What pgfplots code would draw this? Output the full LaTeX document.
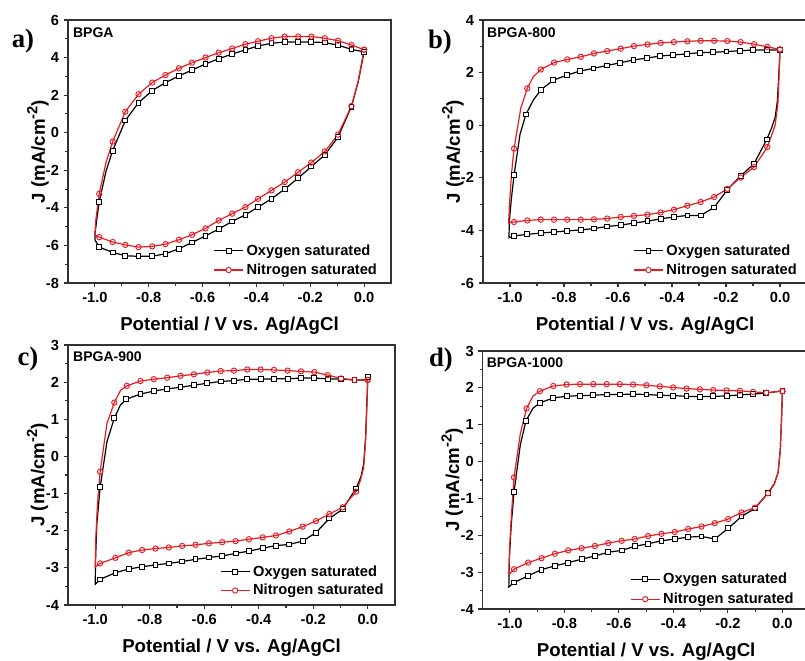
\documentclass[border=0pt]{standalone}
\usepackage{fontspec}
\setmainfont{Liberation Sans}
\newfontfamily\serifbf{Liberation Serif}
\usepackage{pgfplots}
\usepackage{pgfplotstable}
\pgfplotsset{compat=1.18}
\definecolor{cvred}{RGB}{232,28,36}
\definecolor{axgray}{RGB}{50,50,50}

\pgfplotstableread{
x y m
0.000 4.30 1
-0.022 2.70 0
-0.047 1.39 1
-0.097 -0.24 1
-0.146 -1.18 1
-0.196 -1.80 1
-0.245 -2.42 1
-0.295 -3.00 1
-0.344 -3.52 1
-0.394 -3.96 1
-0.441 -4.37 1
-0.490 -4.72 1
-0.540 -5.13 1
-0.589 -5.49 1
-0.639 -5.84 1
-0.688 -6.18 1
-0.738 -6.44 1
-0.787 -6.58 1
-0.838 -6.58 1
-0.887 -6.55 1
-0.934 -6.37 1
-0.984 -6.09 1
-1.000 -5.70 0
-0.999 -5.30 0
-0.992 -4.50 0
-0.984 -3.69 1
-0.959 -2.06 0
-0.934 -0.95 1
-0.887 0.65 1
-0.838 1.60 1
-0.787 2.24 1
-0.738 2.67 1
-0.688 3.02 1
-0.639 3.34 1
-0.589 3.66 1
-0.540 3.94 1
-0.490 4.19 1
-0.441 4.41 1
-0.394 4.62 1
-0.344 4.76 1
-0.295 4.83 1
-0.245 4.83 1
-0.196 4.83 1
-0.146 4.80 1
-0.097 4.66 1
-0.047 4.44 1
0.000 4.30 1
}\aO
\pgfplotstableread{
x y m
0.000 4.42 1
-0.022 2.75 0
-0.047 1.42 1
-0.097 -0.10 1
-0.146 -1.00 1
-0.196 -1.59 1
-0.245 -2.10 1
-0.295 -2.63 1
-0.344 -3.07 1
-0.394 -3.52 1
-0.441 -3.96 1
-0.490 -4.31 1
-0.540 -4.67 1
-0.589 -5.09 1
-0.639 -5.43 1
-0.688 -5.70 1
-0.738 -5.93 1
-0.787 -6.05 1
-0.838 -6.09 1
-0.887 -5.97 1
-0.934 -5.82 1
-0.984 -5.56 1
-1.000 -5.43 0
-0.997 -4.70 0
-0.990 -3.90 0
-0.984 -3.25 1
-0.959 -1.60 0
-0.934 -0.47 1
-0.887 1.12 1
-0.838 2.05 1
-0.787 2.67 1
-0.738 3.07 1
-0.688 3.43 1
-0.639 3.73 1
-0.589 4.00 1
-0.540 4.26 1
-0.490 4.48 1
-0.441 4.71 1
-0.394 4.87 1
-0.344 5.03 1
-0.295 5.12 1
-0.245 5.12 1
-0.196 5.12 1
-0.146 5.03 1
-0.097 4.90 1
-0.047 4.67 1
0.000 4.42 1
}\aN
\pgfplotstableread{
x y m
0.000 2.86 1
-0.004 2.00 0
-0.010 0.90 0
-0.018 0.30 0
-0.031 -0.10 0
-0.049 -0.54 1
-0.096 -1.46 1
-0.146 -1.93 1
-0.195 -2.45 1
-0.244 -3.13 1
-0.294 -3.43 1
-0.343 -3.43 1
-0.393 -3.49 1
-0.442 -3.56 1
-0.491 -3.65 1
-0.541 -3.72 1
-0.590 -3.80 1
-0.640 -3.85 1
-0.689 -3.93 1
-0.738 -3.98 1
-0.788 -4.02 1
-0.837 -4.06 1
-0.886 -4.10 1
-0.936 -4.15 1
-0.985 -4.21 1
-1.004 -4.28 0
-1.002 -3.60 0
-0.995 -2.80 0
-0.985 -1.90 1
-0.963 -0.35 0
-0.941 0.41 1
-0.914 0.95 0
-0.886 1.34 1
-0.840 1.71 1
-0.790 1.90 1
-0.741 2.06 1
-0.691 2.16 1
-0.642 2.27 1
-0.593 2.37 1
-0.543 2.48 1
-0.494 2.55 1
-0.444 2.63 1
-0.395 2.67 1
-0.346 2.71 1
-0.296 2.76 1
-0.247 2.77 1
-0.198 2.80 1
-0.148 2.83 1
-0.099 2.86 1
-0.049 2.86 1
0.000 2.86 1
}\bO
\pgfplotstableread{
x y m
0.000 2.88 1
-0.003 2.00 0
-0.008 0.80 0
-0.018 0.00 0
-0.030 -0.35 0
-0.047 -0.83 1
-0.096 -1.59 1
-0.146 -1.99 1
-0.195 -2.42 1
-0.244 -2.73 1
-0.294 -2.92 1
-0.343 -3.06 1
-0.393 -3.21 1
-0.442 -3.32 1
-0.491 -3.40 1
-0.541 -3.45 1
-0.590 -3.49 1
-0.640 -3.55 1
-0.689 -3.58 1
-0.738 -3.59 1
-0.788 -3.59 1
-0.837 -3.59 1
-0.886 -3.59 1
-0.936 -3.62 1
-0.985 -3.68 1
-1.005 -3.72 0
-1.002 -3.00 0
-0.994 -1.80 0
-0.985 -0.89 1
-0.960 0.65 0
-0.936 1.40 1
-0.914 1.84 0
-0.886 2.12 1
-0.837 2.38 1
-0.788 2.50 1
-0.738 2.60 1
-0.689 2.73 1
-0.640 2.82 1
-0.590 2.91 1
-0.541 3.01 1
-0.491 3.07 1
-0.442 3.13 1
-0.393 3.16 1
-0.343 3.19 1
-0.294 3.21 1
-0.244 3.21 1
-0.195 3.20 1
-0.146 3.16 1
-0.096 3.08 1
-0.047 2.98 1
0.000 2.88 1
}\bN
\pgfplotstableread{
x y m
0.000 2.13 1
-0.003 1.50 0
-0.008 0.50 0
-0.015 -0.20 0
-0.025 -0.55 0
-0.043 -0.86 1
-0.092 -1.42 1
-0.141 -1.67 1
-0.190 -2.05 1
-0.239 -2.28 1
-0.288 -2.37 1
-0.337 -2.40 1
-0.386 -2.47 1
-0.436 -2.55 1
-0.485 -2.61 1
-0.534 -2.68 1
-0.583 -2.72 1
-0.632 -2.77 1
-0.681 -2.83 1
-0.730 -2.88 1
-0.779 -2.92 1
-0.828 -2.97 1
-0.877 -3.03 1
-0.926 -3.13 1
-0.982 -3.31 1
-1.000 -3.44 0
-0.999 -2.80 0
-0.994 -1.80 0
-0.982 -0.83 1
-0.957 0.40 0
-0.930 1.03 1
-0.908 1.38 0
-0.886 1.54 1
-0.834 1.68 1
-0.785 1.76 1
-0.736 1.82 1
-0.687 1.86 1
-0.638 1.92 1
-0.589 1.97 1
-0.540 2.02 1
-0.491 2.04 1
-0.442 2.08 1
-0.393 2.08 1
-0.344 2.09 1
-0.294 2.09 1
-0.245 2.11 1
-0.196 2.11 1
-0.147 2.09 1
-0.098 2.08 1
-0.049 2.06 1
-0.010 2.06 0
0.000 2.13 1
}\cO
\pgfplotstableread{
x y m
0.000 2.06 1
-0.003 1.40 0
-0.008 0.40 0
-0.015 -0.30 0
-0.027 -0.65 0
-0.043 -0.95 1
-0.092 -1.37 1
-0.141 -1.55 1
-0.190 -1.74 1
-0.239 -1.89 1
-0.288 -2.02 1
-0.337 -2.13 1
-0.386 -2.18 1
-0.436 -2.23 1
-0.485 -2.28 1
-0.534 -2.31 1
-0.583 -2.34 1
-0.632 -2.38 1
-0.681 -2.41 1
-0.730 -2.45 1
-0.779 -2.48 1
-0.828 -2.52 1
-0.877 -2.59 1
-0.926 -2.73 1
-0.982 -2.88 1
-1.000 -2.98 0
-0.998 -2.20 0
-0.992 -1.30 0
-0.982 -0.41 1
-0.957 0.89 0
-0.930 1.45 1
-0.907 1.78 0
-0.884 1.90 1
-0.834 2.03 1
-0.785 2.08 1
-0.736 2.12 1
-0.687 2.17 1
-0.638 2.21 1
-0.589 2.26 1
-0.540 2.30 1
-0.491 2.31 1
-0.442 2.34 1
-0.393 2.34 1
-0.344 2.33 1
-0.294 2.31 1
-0.245 2.29 1
-0.196 2.27 1
-0.147 2.19 1
-0.098 2.10 1
-0.049 2.06 1
0.000 2.06 1
}\cN
\pgfplotstableread{
x y m
0.000 1.92 1
-0.003 1.20 0
-0.008 0.30 0
-0.016 -0.30 0
-0.030 -0.60 0
-0.053 -0.86 1
-0.101 -1.27 1
-0.150 -1.49 1
-0.199 -1.81 1
-0.248 -2.10 1
-0.297 -2.03 1
-0.346 -2.05 1
-0.395 -2.10 1
-0.444 -2.15 1
-0.493 -2.23 1
-0.542 -2.30 1
-0.590 -2.41 1
-0.639 -2.46 1
-0.688 -2.56 1
-0.737 -2.65 1
-0.786 -2.74 1
-0.835 -2.83 1
-0.884 -2.93 1
-0.933 -3.10 1
-0.985 -3.28 1
-1.004 -3.40 0
-1.002 -2.60 0
-0.995 -1.70 0
-0.985 -0.83 1
-0.962 0.45 0
-0.941 1.11 1
-0.915 1.45 0
-0.890 1.59 1
-0.841 1.73 1
-0.792 1.77 1
-0.743 1.79 1
-0.694 1.80 1
-0.645 1.82 1
-0.597 1.82 1
-0.548 1.83 1
-0.499 1.82 1
-0.450 1.80 1
-0.401 1.79 1
-0.352 1.77 1
-0.303 1.76 1
-0.254 1.77 1
-0.205 1.78 1
-0.156 1.81 1
-0.108 1.83 1
-0.059 1.86 1
0.000 1.92 1
}\dO
\pgfplotstableread{
x y m
0.000 1.91 1
-0.003 1.20 0
-0.008 0.30 0
-0.016 -0.30 0
-0.030 -0.62 0
-0.053 -0.86 1
-0.101 -1.25 1
-0.150 -1.38 1
-0.199 -1.56 1
-0.248 -1.67 1
-0.297 -1.76 1
-0.346 -1.83 1
-0.395 -1.91 1
-0.444 -1.96 1
-0.493 -2.02 1
-0.542 -2.10 1
-0.590 -2.15 1
-0.639 -2.21 1
-0.688 -2.29 1
-0.737 -2.35 1
-0.786 -2.41 1
-0.835 -2.50 1
-0.884 -2.62 1
-0.933 -2.74 1
-0.985 -2.92 1
-1.004 -3.07 0
-1.001 -2.30 0
-0.994 -1.40 0
-0.985 -0.43 1
-0.962 0.75 0
-0.939 1.44 1
-0.915 1.78 0
-0.890 1.91 1
-0.841 2.05 1
-0.792 2.09 1
-0.743 2.10 1
-0.694 2.10 1
-0.645 2.10 1
-0.597 2.10 1
-0.548 2.09 1
-0.499 2.07 1
-0.450 2.04 1
-0.401 2.01 1
-0.352 1.98 1
-0.303 1.96 1
-0.254 1.94 1
-0.205 1.93 1
-0.156 1.92 1
-0.108 1.89 1
-0.059 1.87 1
0.000 1.91 1
}\dN

\pgfplotsset{
  cv/.style={
    scale only axis,
    xmin=-1.1, xmax=0.1,
    xtick={-1,-0.8,-0.6,-0.4,-0.2,0},
    minor x tick num=1, minor y tick num=1,
    xticklabel style={/pgf/number format/.cd, fixed, fixed zerofill, precision=1},
    xtick pos=left, ytick pos=left,
    tick align=outside,
    major tick length=3.2pt, minor tick length=2pt,
    axis line style={line width=1pt, axgray},
    every tick/.style={axgray, line width=0.8pt},
    /pgf/number format/assume math mode=true,
    tick label style={font=\fontsize{11}{13}\selectfont\bfseries},
    xlabel={Potential / V vs. Ag/AgCl},
    ylabel={J (mA/cm\raisebox{0.75ex}{\fontsize{11}{12}\selectfont -2})},
    every axis x label/.style={at={(axis description cs:0.5,0)}, anchor=base, yshift=-35.25pt, font=\fontsize{14}{16}\selectfont\bfseries},
    every axis y label/.style={at={(axis description cs:-0.093,0.5)}, rotate=90, anchor=center, font=\fontsize{14}{16}\selectfont\bfseries},
    legend cell align=left,
    legend style={draw=none, fill=none, font=\fontsize{11}{12}\selectfont\bfseries, row sep=1pt, anchor=south east},
  },
  oxl/.style={black, line width=0.9pt, forget plot},
  nil/.style={cvred, line width=0.9pt, forget plot},
  oxm/.style={black, line width=0.9pt, only marks, mark=square*, mark size=1.8pt, mark options={fill=white, line width=0.7pt}, restrict expr to domain={\thisrow{m}}{0.5:1.5}, legend image code/.code={\draw[##1] (0pt,0pt)--(22pt,0pt); \draw[##1] plot coordinates {(11pt,0pt)};}},
  nim/.style={cvred, line width=0.9pt, only marks, mark=o, mark size=2pt, mark options={fill=white, line width=0.7pt}, restrict expr to domain={\thisrow{m}}{0.5:1.5}, legend image code/.code={\draw[##1] (0pt,0pt)--(22pt,0pt); \draw[##1,mark=*] plot coordinates {(11pt,0pt)};}},
}

\begin{document}
\begin{tikzpicture}
\path[use as bounding box] (0pt,0pt) rectangle (603.75pt,-495pt);

% a)
\begin{axis}[cv, at={(51pt,-212.25pt)}, anchor=south west, width=242.25pt, height=197.25pt,
  ymin=-8, ymax=6, ytick={-8,-6,-4,-2,0,2,4,6},
  legend style={at={(axis description cs:0.978,0.004)}}]
\addplot[oxl] table[x=x,y=y]{\aO};
\addplot[oxm] table[x=x,y=y]{\aO};
\addlegendentry{Oxygen saturated}
\addplot[nil] table[x=x,y=y]{\aN};
\addplot[nim] table[x=x,y=y]{\aN};
\addlegendentry{Nitrogen saturated}
\node[anchor=west, inner sep=0pt, font=\fontsize{10.5}{12}\selectfont\bfseries] at (axis description cs:0.015,0.951) {BPGA};
\end{axis}

% b)
\begin{axis}[cv, at={(362.25pt,-212.25pt)}, anchor=south west, width=243pt, height=197.25pt,
  ymin=-6, ymax=4, ytick={-6,-4,-2,0,2,4},
  legend style={at={(axis description cs:0.99,0.004)}}]
\addplot[oxl] table[x=x,y=y]{\bO};
\addplot[oxm] table[x=x,y=y]{\bO};
\addlegendentry{Oxygen saturated}
\addplot[nil] table[x=x,y=y]{\bN};
\addplot[nim] table[x=x,y=y]{\bN};
\addlegendentry{Nitrogen saturated}
\node[anchor=west, inner sep=0pt, font=\fontsize{10.5}{12}\selectfont\bfseries] at (axis description cs:0.012,0.951) {BPGA-800};
\end{axis}

% c)
\begin{axis}[cv, at={(51pt,-453.75pt)}, anchor=south west, width=245.25pt, height=195pt,
  ymin=-4, ymax=3, ytick={-4,-3,-2,-1,0,1,2,3},
  legend style={at={(axis description cs:0.986,0.01)}, row sep=0.5pt}]
\addplot[oxl] table[x=x,y=y]{\cO};
\addplot[oxm] table[x=x,y=y]{\cO};
\addlegendentry{Oxygen saturated}
\addplot[nil] table[x=x,y=y]{\cN};
\addplot[nim] table[x=x,y=y]{\cN};
\addlegendentry{Nitrogen saturated}
\node[anchor=west, inner sep=0pt, font=\fontsize{10.5}{12}\selectfont\bfseries] at (axis description cs:0.015,0.954) {BPGA-900};
\end{axis}

% d)
\begin{axis}[cv, at={(362pt,-456.75pt)}, anchor=south west, width=245.25pt, height=193.5pt,
  ymin=-4, ymax=3, ytick={-4,-3,-2,-1,0,1,2,3},
  legend style={at={(axis description cs:0.972,-0.008)}, row sep=1.5pt}]
\addplot[oxl] table[x=x,y=y]{\dO};
\addplot[oxm] table[x=x,y=y]{\dO};
\addlegendentry{Oxygen saturated}
\addplot[nil] table[x=x,y=y]{\dN};
\addplot[nim] table[x=x,y=y]{\dN};
\addlegendentry{Nitrogen saturated}
\node[anchor=west, inner sep=0pt, font=\fontsize{10.5}{12}\selectfont\bfseries] at (axis description cs:0.012,0.953) {BPGA-1000};
\end{axis}

\node[font=\fontsize{20}{22}\selectfont\serifbf\bfseries] at (17.25pt,-31pt) {a)};
\node[font=\fontsize{20}{22}\selectfont\serifbf\bfseries] at (330pt,-31.5pt) {b)};
\node[font=\fontsize{20}{22}\selectfont\serifbf\bfseries] at (21pt,-269pt) {c)};
\node[font=\fontsize{20}{22}\selectfont\serifbf\bfseries] at (330.75pt,-270pt) {d)};
\end{tikzpicture}
\end{document}
